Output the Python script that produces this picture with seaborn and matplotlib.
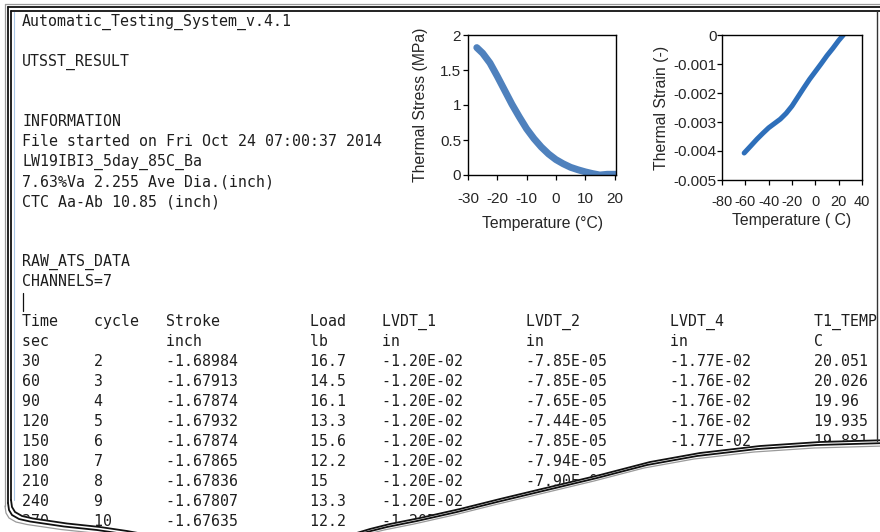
import numpy as np
import matplotlib
matplotlib.use('Agg')
import matplotlib.pyplot as plt
import seaborn as sns

# header lines of the text file (line index -> text)
header_lines = {
    0: 'Automatic_Testing_System_v.4.1',
    2: 'UTSST_RESULT',
    5: 'INFORMATION',
    6: 'File started on Fri Oct 24 07:00:37 2014',
    7: 'LW19IBI3_5day_85C_Ba',
    8: '7.63%Va 2.255 Ave Dia.(inch)',
    9: 'CTC Aa-Ab 10.85 (inch)',
    12: 'RAW_ATS_DATA',
    13: 'CHANNELS=7',
}

# raw data table
col_names = ['Time', 'cycle', 'Stroke', 'Load', 'LVDT_1', 'LVDT_2', 'LVDT_4', 'T1_TEMP']
col_units = ['sec', '', 'inch', 'lb', 'in', 'in', 'in', 'C']
time_s = ['30', '60', '90', '120', '150', '180', '210', '240', '270']
cycle = ['2', '3', '4', '5', '6', '7', '8', '9', '10']
stroke = ['-1.68984', '-1.67913', '-1.67874', '-1.67932', '-1.67874', '-1.67865', '-1.67836', '-1.67807', '-1.67635']
load = ['16.7', '14.5', '16.1', '13.3', '15.6', '12.2', '15', '13.3', '12.2']
lvdt_1 = ['-1.20E-02'] * 9
lvdt_2 = ['-7.85E-05', '-7.85E-05', '-7.65E-05', '-7.44E-05', '-7.85E-05', '-7.94E-05', '-7.90E-05', '', '']
lvdt_4 = ['-1.77E-02', '-1.76E-02', '-1.76E-02', '-1.76E-02', '-1.77E-02', '', '', '', '']
t1_temp = ['20.051', '20.026', '19.96', '19.935', '19.881', '', '', '', '']
tab_cols = [0, 8, 16, 32, 40, 56, 72, 88]

# thermal stress curve
stress_temp = [-27, -25, -22.5, -20, -17.5, -15, -12.5, -10, -7.5, -5, -2.5, 0,
               2.5, 5, 7.5, 10, 12.5, 15, 17.5, 20.5]
stress_mpa = [1.82, 1.74, 1.60, 1.41, 1.21, 1.01, 0.83, 0.66, 0.52, 0.40, 0.30, 0.22,
              0.16, 0.11, 0.075, 0.045, 0.02, 0.0, 0.01, 0.01]

# thermal strain curve
strain_temp = [-61, -55, -50, -45, -40, -35, -30, -25, -20, -15, -10, -5, 0, 5, 10, 15, 20, 24]
strain_val = [-0.00407, -0.00381, -0.00359, -0.00339, -0.00320, -0.00305, -0.00290, -0.00270,
              -0.00245, -0.00214, -0.00183, -0.00153, -0.00126, -0.00099, -0.00071, -0.00046,
              -0.00019, 0.0]

# torn bottom edge of the page (pixels)
tear_x = [11, 12, 15, 22, 33, 50, 67, 100, 127, 160, 200, 260, 320, 350, 370, 390, 420, 460, 500,
          550, 600, 650, 700, 760, 820, 890]
tear_y = [500, 507, 512, 516, 518.5, 521, 523.5, 527, 531, 537, 543, 546, 541, 535, 529, 524, 518, 509,
          499, 487, 475, 462, 453, 446, 442, 440]

sns.set_style('ticks')
plt.rcParams['font.family'] = ['Liberation Sans', 'DejaVu Sans']
plt.rcParams['axes.unicode_minus'] = False

W, H = 880, 532
fig = plt.figure(figsize=(8.8, 5.32), dpi=100)
fig.patch.set_facecolor('white')

page = fig.add_axes([0, 0, 1, 1])
page.set_xlim(0, W)
page.set_ylim(H, 0)
page.axis('off')

mono = dict(family='DejaVu Sans Mono', fontsize=10.7, color='#1e1e1e', va='center', ha='left')
x0, y0, dy = 22, 22, 20

for i, s in header_lines.items():
    page.text(x0, y0 + dy * i, s, **mono)


def tab_row(cells):
    line = ''
    for c, s in zip(tab_cols, cells):
        line = line.ljust(c) + s
    return line


page.text(x0, y0 + dy * 15, tab_row(col_names), **mono)
page.text(x0, y0 + dy * 16, tab_row(col_units), **mono)
for r in range(len(time_s)):
    row = [time_s[r], cycle[r], stroke[r], load[r], lvdt_1[r], lvdt_2[r], lvdt_4[r], t1_temp[r]]
    page.text(x0, y0 + dy * (17 + r), tab_row(row), **mono)

# text cursor
page.plot([22.5, 22.5], [y0 + dy * 14 - 9, y0 + dy * 14 + 9], color='#111', lw=0.9)

# white cover below the tear
tx = np.array(tear_x, dtype=float)
ty = np.array(tear_y, dtype=float)
cover_x = np.concatenate([[0, 0], tx, [W + 20, W + 20]])
cover_y = np.concatenate([[H + 20, ty[0]], ty, [ty[-1], H + 20]])
page.fill(cover_x, cover_y, color='white', zorder=5)
page.fill([877.5, W + 5, W + 5, 877.5], [0, 0, 445, 445], color='white', zorder=5)

# page borders
edge_cols = ['#111', '#111', '#9a9a9a']
for k, col in enumerate(edge_cols):
    off = 3 * k
    xb = 11 - off
    yb = 10.7 - off * 1.1
    lw = 0.9 if k == 2 else 1.3
    page.plot(tx - off, ty + off, color=col, lw=lw, zorder=6)
    page.plot([xb, xb], [yb, tear_y[0] + off], color=col, lw=lw, zorder=6)
    page.plot([xb, W + 5], [yb, yb], color=col, lw=lw, zorder=6)
page.plot([13.5, 13.5], [12, 500], color='#a9c6e6', lw=0.8, zorder=6)
page.plot([877, 877], [11, 441], color='#333', lw=1.0, zorder=6)

tick_fs = 11
label_fs = 11.3

# thermal stress chart
ax1 = fig.add_axes([468 / W, 1 - 175 / H, 148 / W, 140 / H])
sns.lineplot(x=stress_temp, y=stress_mpa, ax=ax1, color='#4f81bd', lw=5,
             solid_capstyle='round', sort=False)
ax1.set_xlim(-30, 20.5)
ax1.set_ylim(0, 2)
ax1.set_xticks([-30, -20, -10, 0, 10, 20])
ax1.set_yticks([0, 0.5, 1, 1.5, 2])
ax1.set_yticklabels(['0', '0.5', '1', '1.5', '2'])
ax1.tick_params(labelsize=tick_fs, length=3.5, width=0.9, color='black', direction='out')
ax1.tick_params(axis='x', pad=8.5)
ax1.tick_params(axis='y', pad=1.5)
ax1.set_xlabel('Temperature (°C)', fontsize=label_fs, labelpad=7.5)
ax1.set_ylabel('Thermal Stress (MPa)', fontsize=label_fs, labelpad=8.5)
for sp in ax1.spines.values():
    sp.set_visible(True)
    sp.set_color('black')
    sp.set_linewidth(1.0)

# thermal strain chart
ax2 = fig.add_axes([722 / W, 1 - 180 / H, 140 / W, 145 / H])
sns.lineplot(x=strain_temp, y=strain_val, ax=ax2, color='#2e6fba', lw=3.6,
             solid_capstyle='round', sort=False)
ax2.set_xlim(-80, 40)
ax2.set_ylim(-0.005, 0)
ax2.set_xticks([-80, -60, -40, -20, 0, 20, 40])
ax2.set_yticks([0, -0.001, -0.002, -0.003, -0.004, -0.005])
ax2.set_yticklabels(['0', '-0.001', '-0.002', '-0.003', '-0.004', '-0.005'])
ax2.tick_params(labelsize=tick_fs, length=3.5, width=0.9, color='black', direction='out')
ax2.tick_params(axis='x', pad=7.5, labelsize=10.5)
ax2.tick_params(axis='y', pad=0.3)
ax2.set_xlabel('Temperature ( C)', fontsize=label_fs, labelpad=2.5)
ax2.set_ylabel('Thermal Strain (-)', fontsize=label_fs, labelpad=3)
for sp in ax2.spines.values():
    sp.set_visible(True)
    sp.set_color('black')
    sp.set_linewidth(1.0)

fig.savefig('out.png', dpi=100, facecolor='white')
